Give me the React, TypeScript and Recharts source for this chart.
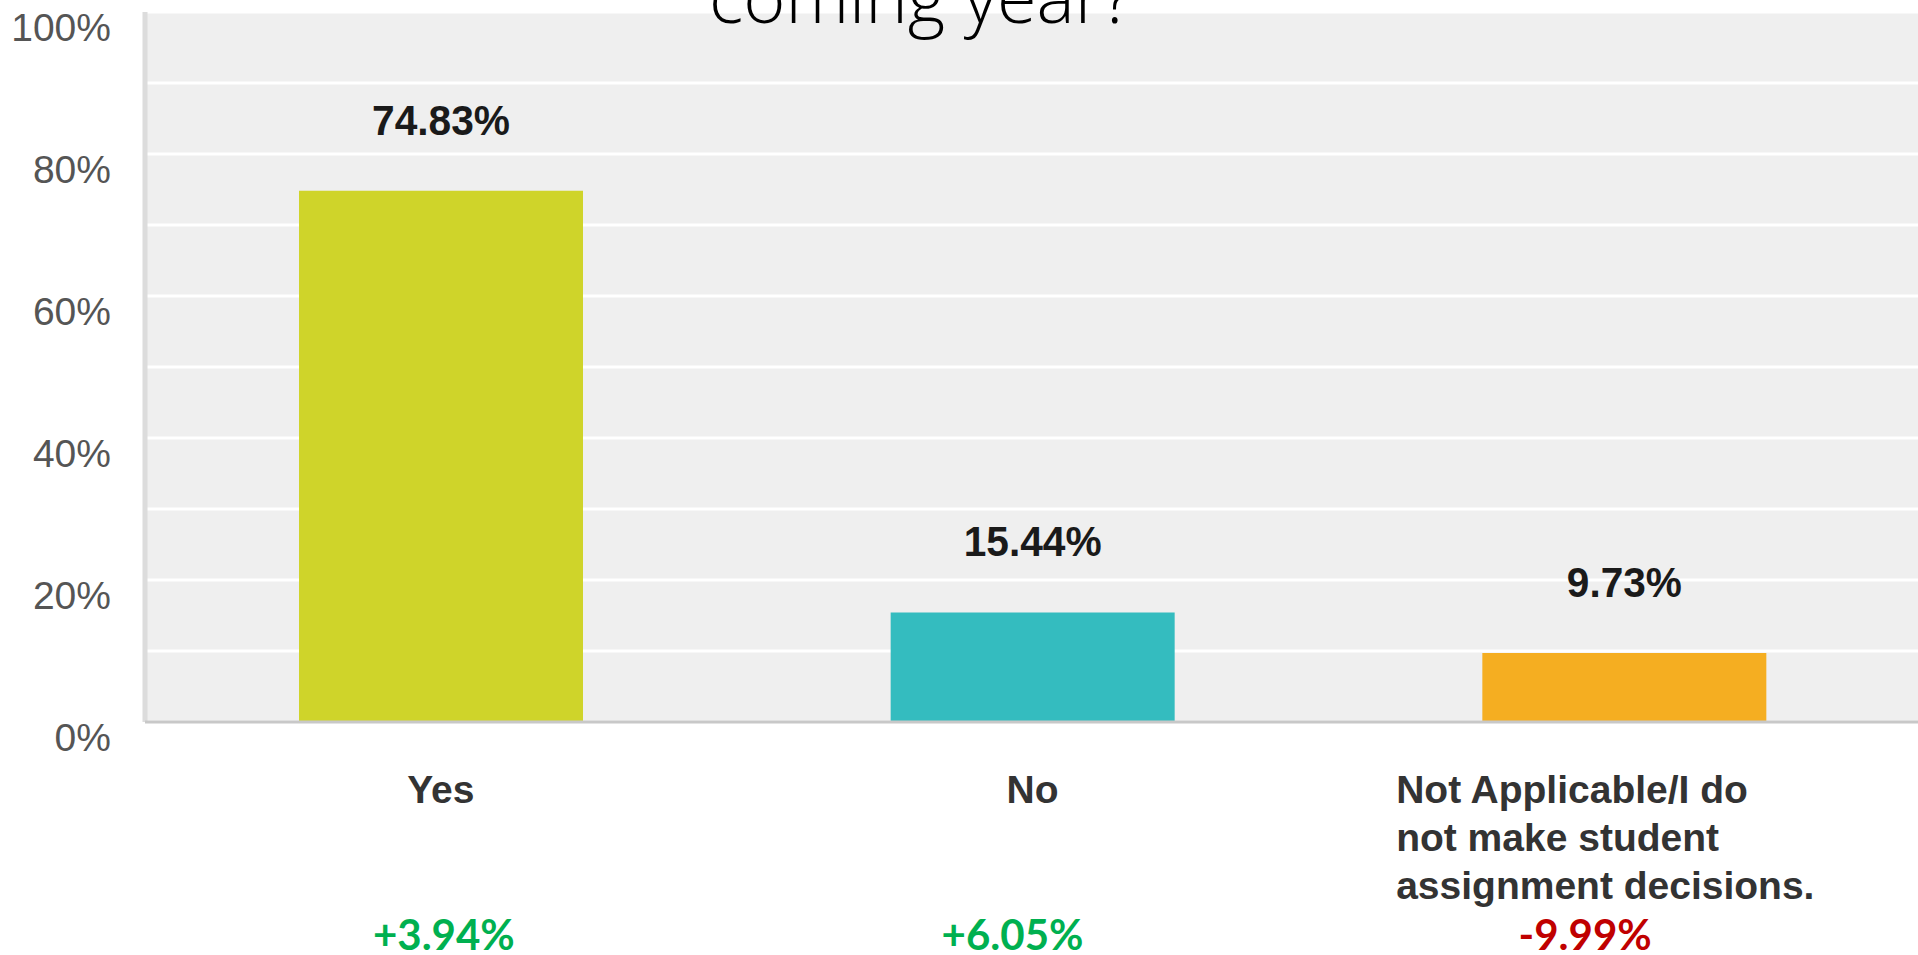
import React from 'react';
import { BarChart, Bar, XAxis, YAxis, CartesianGrid, Cell, LabelList } from 'recharts';

const categories = ['Yes', 'No', 'Not Applicable/I do not make student assignment decisions.'];
const categoryLines = [['Yes'], ['No'], ['Not Applicable/I do', 'not make student', 'assignment decisions.']];
const values = [74.83, 15.44, 9.73];
const valueLabels = ['74.83%', '15.44%', '9.73%'];
const deltas = ['+3.94%', '+6.05%', '-9.99%'];
const deltaColors = ['#00b050', '#00b050', '#c00000'];
const barColors = ['#cfd42a', '#34bcbf', '#f5ae21'];
const yTicks = [0, 10, 20, 30, 40, 50, 60, 70, 80, 90, 100];
const titleText = 'coming year?';

// horizontal nudges of the change labels relative to their category centre (style only)
const deltaNudge = [3, -20, -39];

const data = categories.map((c, i) => ({ name: c, value: values[i], label: valueLabels[i] }));

const YTick = (props: any) => {
  const { x, y, payload } = props;
  if (payload.value % 20 !== 0) return null;
  return (
    <text x={x - 34} y={y + 29} textAnchor="end" fill="#555" fontSize={39} fontFamily="'Liberation Sans', Arial, sans-serif">
      {payload.value}%
    </text>
  );
};

const XTick = (props: any) => {
  const { x, y, index } = props;
  const lines = categoryLines[index] || [];
  const multi = lines.length > 1;
  return (
    <g>
      {lines.map((ln, i) => (
        <text
          key={i}
          x={multi ? x - 228 : x}
          y={y + 81 + i * 48}
          textAnchor={multi ? 'start' : 'middle'}
          fill="#333"
          fontSize={39}
          fontWeight="bold"
          fontFamily="'Liberation Sans', Arial, sans-serif"
        >
          {ln}
        </text>
      ))}
      <text
        x={x + deltaNudge[index]}
        y={y + 228}
        textAnchor="middle"
        fill={deltaColors[index]}
        fontSize={42}
        fontWeight="bold"
        fontFamily="Lato, 'Open Sans', sans-serif"
      >
        {deltas[index]}
      </text>
    </g>
  );
};

const ValueLabel = (props: any) => {
  const { x, y, width, value } = props;
  const s = String(value);
  return (
    <text
      x={x + width / 2}
      y={y - 56}
      textAnchor="middle"
      fill="#1a1a1a"
      fontSize={42}
      fontWeight="bold"
      fontFamily="'Liberation Sans', Arial, sans-serif"
      textLength={s.length * 23}
      lengthAdjust="spacingAndGlyphs"
    >
      {s}
    </text>
  );
};

export default function App() {
  return (
    <div style={{ position: 'absolute', left: 0, top: 0, width: 1918, height: 955, overflow: 'hidden', background: '#fff' }}>
      <BarChart width={1918} height={955} data={data} margin={{ top: 12, right: -2, bottom: 0, left: 0 }} barSize={284}>
        <CartesianGrid vertical={false} stroke="#ffffff" strokeWidth={3} fill="#efefef" />
        <YAxis
          type="number"
          domain={[0, 100]}
          ticks={yTicks}
          width={145}
          tickLine={false}
          tickSize={0}
          tickMargin={0}
          axisLine={{ stroke: '#dcdcdc', strokeWidth: 5 }}
          tick={<YTick />}
          interval={0}
        />
        <XAxis
          dataKey="name"
          height={233}
          tickLine={false}
          tickSize={0}
          tickMargin={0}
          axisLine={{ stroke: '#c8c8c8', strokeWidth: 3 }}
          tick={<XTick />}
          interval={0}
        />
        <Bar dataKey="value" isAnimationActive={false}>
          {data.map((d, i) => (
            <Cell key={i} fill={barColors[i]} />
          ))}
          <LabelList dataKey="label" content={<ValueLabel />} />
        </Bar>
      </BarChart>
      <svg width={1918} height={60} style={{ position: 'absolute', left: 0, top: 0, pointerEvents: 'none' }}>
        <text x={921} y={23} textAnchor="middle" fill="#000" fontSize={72} fontWeight={300} fontFamily="'Open Sans', sans-serif">
          {titleText}
        </text>
      </svg>
    </div>
  );
}
